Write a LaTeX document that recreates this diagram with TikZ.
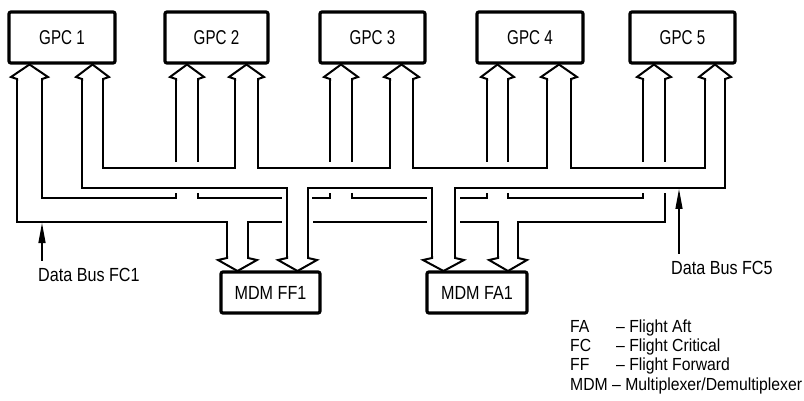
\documentclass[tikz,border=0pt]{standalone}
\usepackage{fontspec}
\newfontfamily\cfa{Liberation Sans}[FakeStretch=0.76]
\newfontfamily\cfb{Liberation Sans}[FakeStretch=0.85]
\newfontfamily\cfc{Liberation Sans}[FakeStretch=0.9]
\usetikzlibrary{arrows.meta}
\newcommand\uph[2]{\draw[bus] (#1,81) -- (#1,79) -- (#1-6,77) -- ({(#1+#2)/2},64.5) -- (#2+6,77) -- (#2,79) -- (#2,81);}
\newcommand\dnh[2]{\draw[bus] (#1,256) -- (#1,258) -- (#1-9,260) -- ({(#1+#2)/2},271) -- (#2+9,260) -- (#2,258) -- (#2,256);}
\begin{document}
\begin{tikzpicture}[x=1pt,y=-1pt,
  bus/.style={line width=2pt, line join=miter, line cap=butt},
  box/.style={draw, line width=3.2pt, rounded corners=2pt, inner sep=0pt, font=\cfa\fontsize{20}{20}\selectfont},
  lbl/.style={inner sep=0pt, font=\cfb\fontsize{19}{19}\selectfont},
  leg/.style={inner sep=0pt, anchor=base west, font=\cfc\fontsize{17.5}{17.5}\selectfont},
  ptr/.style={line width=1.3pt, -{Triangle[length=20pt,width=7pt]}}]
\fill[white] (0,0) rectangle (804,401);
\useasboundingbox (0,0) rectangle (804,401);
% GPC boxes
\node[box, minimum width=106pt, minimum height=51pt] (g1) at (62,37.5) {\raisebox{-4pt}{GPC 1}};
\node[box, minimum width=103pt, minimum height=51pt] (g2) at (216.5,37.5) {\raisebox{-4pt}{GPC 2}};
\node[box, minimum width=105pt, minimum height=51pt] (g3) at (372.5,37.5) {\raisebox{-4pt}{GPC 3}};
\node[box, minimum width=106pt, minimum height=51pt] (g4) at (530,37.5) {\raisebox{-4pt}{GPC 4}};
\node[box, minimum width=105pt, minimum height=51pt] (g5) at (682.5,37.5) {\raisebox{-4pt}{GPC 5}};
% MDM boxes
\node[box, minimum width=99pt, minimum height=41pt, font=\cfb\fontsize{19}{19}\selectfont] (ff1) at (270.5,292.5) {\raisebox{-3pt}{MDM FF1}};
\node[box, minimum width=100pt, minimum height=41pt, font=\cfb\fontsize{19}{19}\selectfont] (fa1) at (477,292.5) {\raisebox{-3pt}{MDM FA1}};
% arrow heads into GPCs
\uph{17}{42}\uph{82}{103}
\uph{176}{198}\uph{235}{258}
\uph{330}{352}\uph{390}{413}
\uph{487}{508}\uph{547}{571}
\uph{643}{665}\uph{705}{725}
% arrow heads into MDMs
\dnh{227}{248}\dnh{287}{308}
\dnh{432}{455}\dnh{498}{518}
% Data bus FC1: outer line
\draw[bus] (17,79) -- (17,222) -- (227,222) -- (227,258);
\draw[bus] (248,258) -- (248,222) -- (282,222);
\draw[bus] (313,222) -- (427,222);
\draw[bus] (460,222) -- (498,222) -- (498,258);
\draw[bus] (518,258) -- (518,222) -- (665,222) -- (665,193);
\draw[bus] (665,162) -- (665,79);
% Data bus FC1: inner line
\draw[bus] (42,79) -- (42,198) -- (176,198) -- (176,193);
\draw[bus] (176,162) -- (176,79);
\draw[bus] (198,79) -- (198,162);
\draw[bus] (198,193) -- (198,198) -- (282,198);
\draw[bus] (312,198) -- (330,198) -- (330,193);
\draw[bus] (330,162) -- (330,79);
\draw[bus] (352,79) -- (352,162);
\draw[bus] (352,193) -- (352,198) -- (427,198);
\draw[bus] (460,198) -- (487,198) -- (487,193);
\draw[bus] (487,162) -- (487,79);
\draw[bus] (508,79) -- (508,162);
\draw[bus] (508,193) -- (508,198) -- (643,198) -- (643,193);
\draw[bus] (643,162) -- (643,79);
% Data bus FC5: upper line
\draw[bus] (103,79) -- (103,168) -- (235,168) -- (235,79);
\draw[bus] (258,79) -- (258,168) -- (390,168) -- (390,79);
\draw[bus] (413,79) -- (413,168) -- (547,168) -- (547,79);
\draw[bus] (571,79) -- (571,168) -- (705,168) -- (705,79);
% Data bus FC5: lower line
\draw[bus] (82,79) -- (82,188) -- (287,188) -- (287,258);
\draw[bus] (308,258) -- (308,188) -- (432,188) -- (432,258);
\draw[bus] (455,258) -- (455,188) -- (725,188) -- (725,79);
% labels
\node[lbl, anchor=base west] (l1) at (38,281) {Data Bus FC1};
\coordinate (p1) at (42,223);
\draw[ptr] (l1.north west -| p1) ++(0,-7) -- (p1);
\node[lbl, anchor=base west] (l5) at (671,274) {Data Bus FC5};
\coordinate (p5) at (679,189);
\draw[ptr] (l5.north west -| p5) ++(0,-7) -- (p5);
% legend
\node[leg] (a1) at (570,332) {FA};
\node[leg] (a2) at (570,351) {FC};
\node[leg] (a3) at (570,370) {FF};
\node[leg] (a4) at (570,390) {MDM};
\node[leg] (d1) at (616,332) {– Flight Aft};
\node[leg] (d2) at (616,351) {– Flight Critical};
\node[leg] (d3) at (616,370) {– Flight Forward};
\node[leg] (d4) at (a4.base east) [xshift=4pt] {– Multiplexer/Demultiplexer};
\end{tikzpicture}
\end{document}
